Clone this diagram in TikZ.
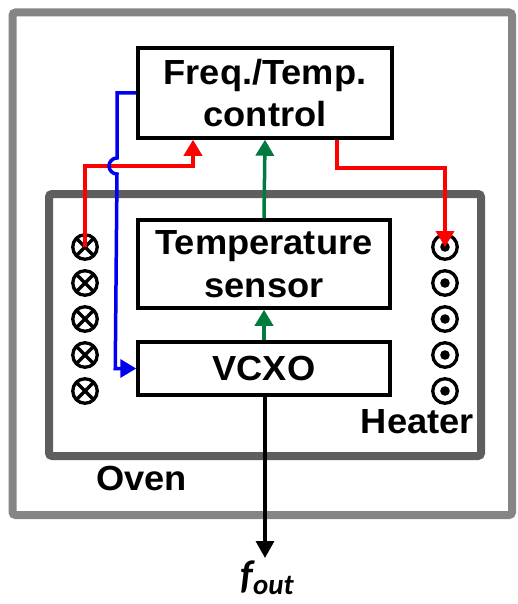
\documentclass[tikz,border=0pt]{standalone}
\usepackage{fontspec}
\setmainfont{Liberation Sans}[FakeStretch=1.04]
\newfontfamily\fofont{Carlito}
\usetikzlibrary{arrows.meta,calc}
\definecolor{outergray}{HTML}{858585}
\definecolor{ovengray}{HTML}{5E5E5E}
\definecolor{cred}{HTML}{FF0000}
\definecolor{cblue}{HTML}{0000F0}
\definecolor{cgreen}{HTML}{007A3D}
\tikzset{
  box/.style={draw=black, line width=3.5bp, align=center, inner sep=0pt,
    font=\bfseries\fontsize{35}{43}\selectfont},
  lbl/.style={font=\bfseries\fontsize{35}{43}\selectfont, inner sep=0pt},
  xcirc/.style={circle, draw=black, line width=3.3bp, minimum size=24.5bp, inner sep=0pt,
    path picture={\draw[line width=3.3bp] (path picture bounding box.south west) -- (path picture bounding box.north east)
      (path picture bounding box.north west) -- (path picture bounding box.south east);}},
  dcirc/.style={circle, draw=black, line width=3.3bp, minimum size=24.5bp, inner sep=0pt,
    path picture={\fill (path picture bounding box.center) circle (4.8bp);}},
  tip/.style={-{Triangle[width=18bp,length=16bp]}},
  redline/.style={draw=cred, line width=3.5bp, tip, line join=miter},
  blueline/.style={draw=cblue, line width=3.5bp, tip},
  greenline/.style={draw=cgreen, line width=3.5bp, tip},
}
\begin{document}
\begin{tikzpicture}[x=1bp,y=-1bp]
\useasboundingbox (0,0) rectangle (518,604);
% outer and oven boxes
\draw[outergray, line width=8bp, rounded corners=3bp] (12.5,12.5) rectangle (512,515);
\draw[ovengray, line width=8bp, rounded corners=3bp] (49,194) rectangle (481,456);
% blocks
\node[box, minimum width=254bp, minimum height=90bp] (freq) at (265,93) {Freq./Temp.\\control};
\node[box, minimum width=252bp, minimum height=88bp] (sensor) at (264,264) {Temperature\\sensor};
\node[box, minimum width=252bp, minimum height=53bp] (vcxo) at (264,368.5) {VCXO};
% heater wires
\foreach \i/\yy in {1/247,2/283,3/319,4/355,5/391}{
  \node[xcirc] (c\i) at (85,\yy) {};
  \node[dcirc] (d\i) at (445,\yy) {};
}
% labels
\node[lbl, anchor=base west] (oven) at (96,490) {Oven};
\node[lbl, anchor=base east] (heater) at (474,433) {Heater};
\node[inner sep=0pt] (fo) at (267,578) {\fofont\bfseries\itshape\fontsize{40}{44}\selectfont f\raisebox{-6bp}{\fontsize{29}{32}\selectfont out}};
\coordinate (fend) at (265,558);
% connectors
\draw[redline] (c1.center) -- ++(0,-81) -| ($(freq.south)+(-72,0)$);
\draw[redline] ($(freq.south)+(72,0)$) -- ++(0,28) -| (d1.center);
\draw[greenline] (sensor.north) -- (freq.south);
\draw[greenline] (vcxo.north) -- (sensor.south);
\draw[blueline] (freq.west) -- (117,93) -- (117,158)
   arc[start angle=90, end angle=270, radius=8bp] -- ($(vcxo.west)+(-21,0)$) -- (vcxo.west);
\draw[black, line width=3.3bp, -{Triangle[width=18bp,length=17bp]}] (vcxo.south -| fend) -- (fend);
\end{tikzpicture}
\end{document}
